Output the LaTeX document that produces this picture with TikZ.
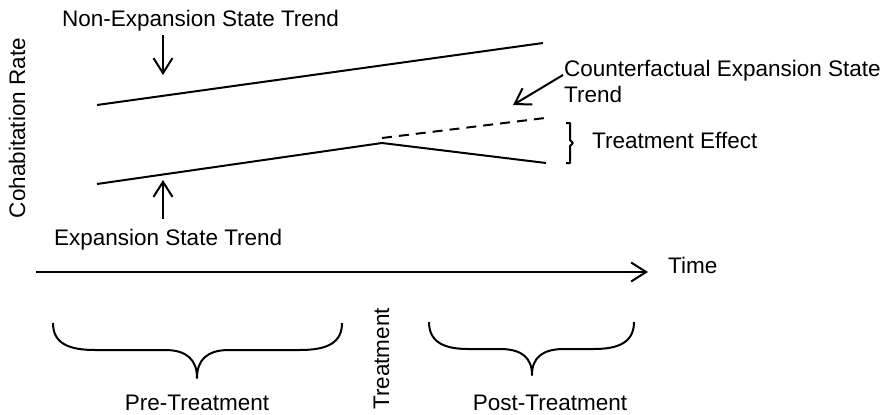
\documentclass[tikz,border=0pt]{standalone}
\usepackage{fontspec}
\setmainfont{Liberation Sans}
\usetikzlibrary{arrows.meta, calc, positioning}
\tikzstyle{txt} = [inner sep=0pt, font=\fontsize{22.5}{26}\selectfont]
\tikzstyle{trend} = [line width=2pt]
\tikzstyle{counter} = [trend, dash pattern=on 10pt off 7pt]
\tikzstyle{arrow} = [line width=2pt, -{Straight Barb[length=15pt, width=19pt, line width=2pt]}]
\tikzstyle{brace} = [line width=2pt, line join=round]

\begin{document}
\begin{tikzpicture}[x=1pt, y=-1pt]
		\useasboundingbox (0,0) rectangle (887,415);
		% trend lines
		\coordinate (NonExpStart) at (97,105);
		\coordinate (NonExpEnd) at (543,43);
		\coordinate (ExpStart) at (97,184);
		\coordinate (ExpKink) at (382,143);
		\coordinate (ExpEnd) at (546,163);
		\coordinate (CounterStart) at (382,138);
		\coordinate (CounterEnd) at (545,118);
		\draw [trend] (NonExpStart) -- (NonExpEnd);
		\draw [trend] (ExpStart) -- (ExpKink) -- (ExpEnd);
		\draw [counter] (CounterStart) -- (CounterEnd);
		% labels
		\node (RateLabel) [txt, rotate=90, anchor=base] at (25,128) {Cohabitation Rate};
		\node (NonExpLabel) [txt, anchor=base west] at (62,27) {Non-Expansion State Trend};
		\node (ExpLabel) [txt, anchor=base west] at (54,245) {Expansion State Trend};
		\node (CounterLabel) [txt, anchor=north west, align=left] at (564,60) {Counterfactual Expansion State\\Trend};
		\node (EffectLabel) [txt, anchor=base west] at (592,148) {Treatment Effect};
		\coordinate (NonExpArrowTop) at (163,35);
		\coordinate (NonExpArrowTip) at (163,75);
		\coordinate (ExpArrowBottom) at (163,219);
		\coordinate (ExpArrowTip) at (163,180);
		\coordinate (CounterArrowStart) at (563,75);
		\coordinate (CounterArrowTip) at (513,105);
		\draw [arrow] (NonExpArrowTop) -- (NonExpArrowTip);
		\draw [arrow] (ExpArrowBottom) -- (ExpArrowTip);
		\draw [arrow] (CounterArrowStart) -- (CounterArrowTip);
		% treatment effect bracket
		\draw [brace] (566,123) -- (570,123) -- (570,140) -- (573,143) -- (570,146) -- (570,163) -- (566,163);
		% time axis
		\coordinate (AxisStart) at (36,272);
		\coordinate (AxisEnd) at (648,272);
		\draw [arrow] (AxisStart) -- (AxisEnd);
		\node (TimeLabel) [txt, anchor=base west] at (668,273) {Time};
		% periods
		\draw [brace] (53,323) .. controls (53,343) and (68,350) .. (95,350) -- (165,350)
			.. controls (187,350) and (197,360) .. (197,378)
			.. controls (197,360) and (207,350) .. (229,350) -- (300,350)
			.. controls (327,350) and (342,343) .. (342,323);
		\draw [brace] (429,322) .. controls (429,342) and (444,349) .. (468,349) -- (500,349)
			.. controls (522,349) and (532,358) .. (532,375)
			.. controls (532,358) and (542,349) .. (564,349) -- (594,349)
			.. controls (619,349) and (634,342) .. (634,322);
		\node (PreLabel) [txt, anchor=base] at (197,410) {Pre-Treatment};
		\node (TreatLabel) [txt, rotate=90, anchor=base] at (389,359) {Treatment};
		\node (PostLabel) [txt, anchor=base] at (550,410) {Post-Treatment};
\end{tikzpicture}
\end{document}
